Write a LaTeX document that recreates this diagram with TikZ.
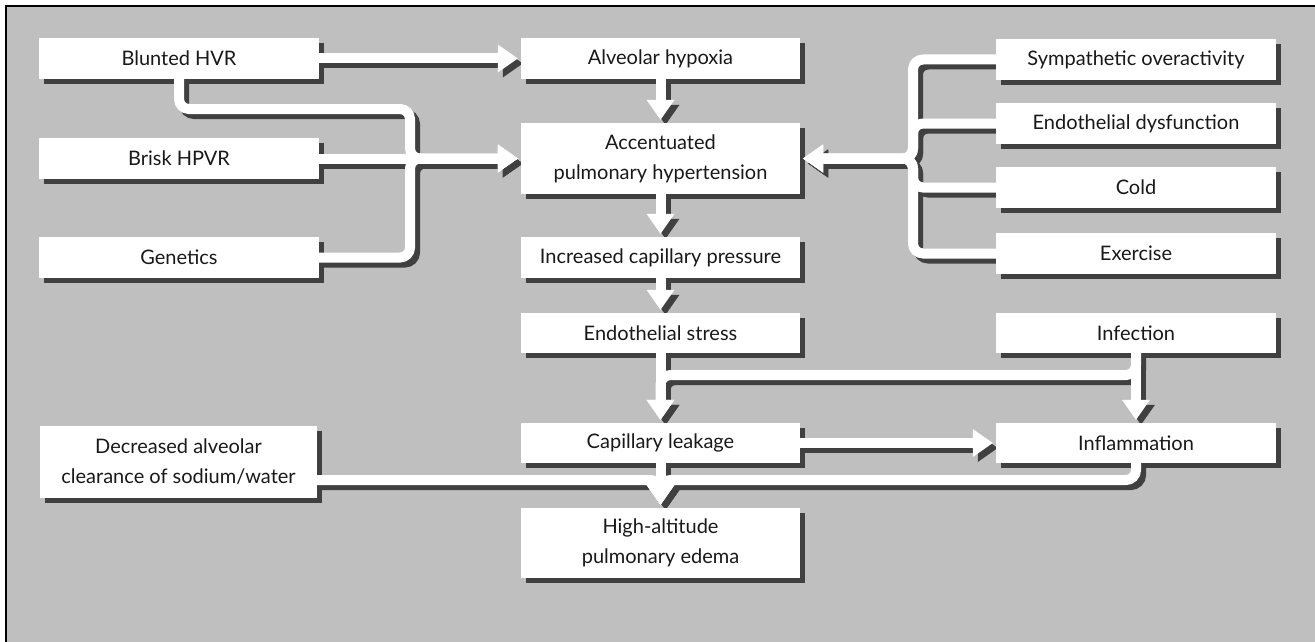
\documentclass[tikz,border=0pt]{standalone}
\usepackage{fontspec}
\setmainfont{Lato}
\usetikzlibrary{arrows.meta}
\definecolor{bgc}{RGB}{191,191,191}
\definecolor{shc}{RGB}{64,64,64}
\definecolor{txc}{RGB}{25,25,25}
\pgfdeclarelayer{bg}
\pgfdeclarelayer{boxshadow}
\pgfdeclarelayer{connshadow}
\pgfdeclarelayer{connwhite}
\pgfdeclarelayer{boxwhite}
\pgfsetlayers{bg,boxshadow,connshadow,connwhite,boxwhite,main}
\tikzset{
  box/.style={minimum width=279pt, minimum height=41pt, inner sep=0pt, align=center,
    text=txc, font=\fontsize{20}{30}\selectfont},
  tallbox/.style={box, minimum height=71pt},
  connbase/.style={line width=10pt, rounded corners=10pt, line cap=butt},
  tipped/.style={-{Triangle[length=20pt 0 0, width=28pt 0 0, line width=0pt]}, shorten >=3pt},
}
\newcommand\connector[2][]{%
  \begin{pgfonlayer}{connshadow}\draw[connbase,#1,color=shc,transform canvas={xshift=5pt,yshift=-5pt}] #2;\end{pgfonlayer}%
  \begin{pgfonlayer}{connwhite}\draw[connbase,#1,color=white] #2;\end{pgfonlayer}}
\begin{document}
\begin{tikzpicture}[x=1pt,y=-1pt]
\useasboundingbox (0,0) rectangle (1315,642);
\begin{pgfonlayer}{bg}
  \fill[white] (0,0) rectangle (1315,642);
  \fill[bgc] (6,6) rectangle (1315,642);
  \draw[line width=2pt] (6,642) -- (6,6) -- (1315,6);
\end{pgfonlayer}

% left column
\node[box] (blunted) at (179,58.5) {Blunted HVR};
\node[box] (brisk) at (179,158.5) {Brisk HPVR};
\node[box] (genetics) at (179,257.5) {Genetics};
\node[tallbox, minimum width=277pt] (decreased) at (178.5,462) {Decreased alveolar\\clearance of sodium/water};
% middle column
\node[box] (alveolar) at (660.5,58.5) {Alveolar hypoxia};
\node[tallbox] (accent) at (660.5,158.5) {Accentuated\\pulmonary hypertension};
\node[box] (increased) at (660.5,257.5) {Increased capillary pressure};
\node[box, minimum height=40pt] (endostress) at (660.5,333) {Endothelial stress};
\node[box, minimum height=40pt] (leakage) at (660.5,443) {Capillary leakage};
\node[tallbox, minimum height=70pt] (hape) at (660.5,543) {High-altitude\\pulmonary edema};
% right column
\node[box, minimum width=280pt] (sympathetic) at (1136,59.5) {Sympathetic overactivity};
\node[box, minimum width=280pt] (endodys) at (1136,123.5) {Endothelial dysfunction};
\node[box, minimum width=280pt] (cold) at (1136,187.5) {Cold};
\node[box, minimum width=280pt] (exercise) at (1136,253.5) {Exercise};
\node[box, minimum width=280pt, minimum height=40pt] (infection) at (1136,333) {Infection};
\node[box, minimum width=280pt, minimum height=40pt] (inflammation) at (1136,443) {Inflammation};

\foreach \n in {blunted,brisk,genetics,decreased,alveolar,accent,increased,endostress,leakage,hape,sympathetic,endodys,cold,exercise,infection,inflammation}{
  \begin{pgfonlayer}{boxshadow}
    \fill[shc] ([xshift=5pt,yshift=-5pt]\n.south west) rectangle ([xshift=5pt,yshift=-5pt]\n.north east);
  \end{pgfonlayer}
  \begin{pgfonlayer}{boxwhite}
    \fill[white] (\n.south west) rectangle (\n.north east);
  \end{pgfonlayer}
}

% connectors
\connector[tipped]{(blunted.east) -- (alveolar.west)}
\connector[tipped]{(blunted.south) -- (179,109) -- (410,109) -- (410,158.5) -- (accent.west)}
\connector[tipped]{(brisk.east) -- (accent.west)}
\connector[tipped]{(genetics.east) -- (410,257.5) -- (410,158.5) -- (accent.west)}
\connector[tipped]{(alveolar.south) -- (accent.north)}
\connector[tipped]{(accent.south) -- (increased.north)}
\connector[tipped]{(increased.south) -- (endostress.north)}
\connector[tipped]{(endostress.south) -- (leakage.north)}
\connector[tipped]{(infection.south) -- (1136,375) -- (660.5,375) -- (leakage.north)}
\connector[tipped]{(infection.south) -- (inflammation.north)}
\connector[tipped]{(leakage.east) -- (inflammation.west)}
\connector[tipped]{(leakage.south) -- (hape.north)}
\connector[tipped]{(decreased.east |- 0,480) -- (660.5,480) -- (hape.north)}
\connector[tipped]{(inflammation.south) -- (1136,480) -- (660.5,480) -- (hape.north)}
\connector[tipped]{(sympathetic.west) -- (913,59.5) -- (913,158.5) -- (accent.east)}
\connector[tipped]{(endodys.west) -- (913,123.5) -- (913,158.5) -- (accent.east)}
\connector[tipped]{(cold.west) -- (913,187.5) -- (913,158.5) -- (accent.east)}
\connector[tipped]{(exercise.west) -- (913,253.5) -- (913,158.5) -- (accent.east)}
\end{tikzpicture}
\end{document}
